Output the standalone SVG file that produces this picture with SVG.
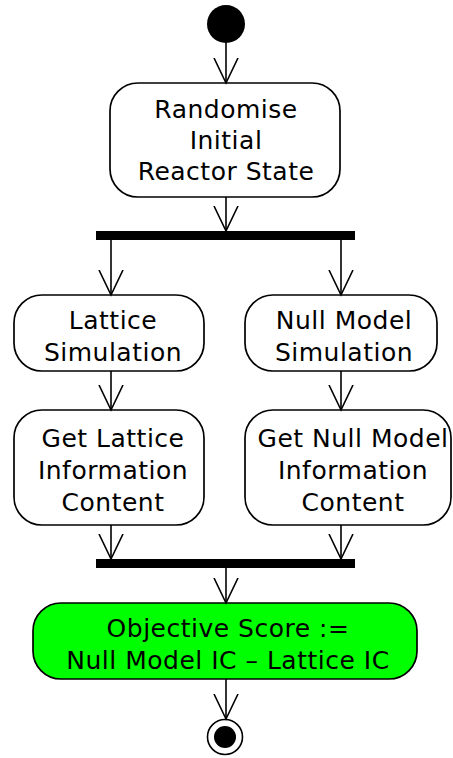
<svg xmlns="http://www.w3.org/2000/svg" width="453" height="758" viewBox="0 0 453 758">
<style>
.box{fill:#fff;stroke:#000;stroke-width:1.7}
.green{fill:#00ff00}
.t{font-family:"DejaVu Sans",sans-serif;font-size:25px;letter-spacing:0.5px;fill:#000;text-anchor:middle}
.c{stroke:#000;stroke-width:1.6;fill:none}
</style>
<defs>
<marker id="arr" viewBox="0 0 27 27" refX="25.5" refY="13.5" markerWidth="27" markerHeight="27" markerUnits="userSpaceOnUse" orient="auto">
<path d="M0.5,1.5 L25.5,13.5 L0.5,25.5" fill="none" stroke="#000" stroke-width="1.6"/>
</marker>
</defs>
<g id="start"><circle cx="226" cy="24" r="19" fill="#000"/></g>
<g id="randomise">
<rect class="box" x="110" y="83" width="230" height="114" rx="28"/>
<text class="t" x="226" y="118">Randomise</text>
<text class="t" x="226" y="149">Initial</text>
<text class="t" x="226" y="180">Reactor State</text>
</g>
<g id="fork"><rect x="96" y="231" width="259" height="9" fill="#000"/></g>
<g id="lattice_sim">
<rect class="box" x="14" y="295" width="190" height="76" rx="28"/>
<text class="t" x="113" y="329">Lattice</text>
<text class="t" x="113" y="361">Simulation</text>
</g>
<g id="null_sim">
<rect class="box" x="245" y="295" width="192" height="76" rx="28"/>
<text class="t" x="344" y="329">Null Model</text>
<text class="t" x="344" y="361">Simulation</text>
</g>
<g id="lattice_ic">
<rect class="box" x="14" y="410" width="190" height="115" rx="28"/>
<text class="t" x="113" y="447">Get Lattice</text>
<text class="t" x="113" y="479">Information</text>
<text class="t" x="113" y="511">Content</text>
</g>
<g id="null_ic">
<rect class="box" x="245" y="410" width="206" height="115" rx="28"/>
<text class="t" x="353" y="447">Get Null Model</text>
<text class="t" x="353" y="479">Information</text>
<text class="t" x="353" y="511">Content</text>
</g>
<g id="join"><rect x="96" y="559" width="259" height="9" fill="#000"/></g>
<g id="objective">
<rect class="box green" x="33" y="603" width="384" height="76" rx="28"/>
<text class="t" x="228" y="637">Objective Score :=</text>
<text class="t" x="228" y="669">Null Model IC – Lattice IC</text>
</g>
<g id="end">
<circle cx="225" cy="737" r="17.5" fill="#fff" stroke="#000" stroke-width="1.6"/>
<circle cx="225" cy="737" r="11" fill="#000"/>
</g>
<g id="connectors">
<path class="c" d="M226,43 V83" marker-end="url(#arr)"/>
<path class="c" d="M226,197 V231" marker-end="url(#arr)"/>
<path class="c" d="M111,240 V295" marker-end="url(#arr)"/>
<path class="c" d="M341,240 V295" marker-end="url(#arr)"/>
<path class="c" d="M111,371 V410" marker-end="url(#arr)"/>
<path class="c" d="M341,371 V410" marker-end="url(#arr)"/>
<path class="c" d="M111,525 V559" marker-end="url(#arr)"/>
<path class="c" d="M341,525 V559" marker-end="url(#arr)"/>
<path class="c" d="M226,568 V603" marker-end="url(#arr)"/>
<path class="c" d="M226,679 V719" marker-end="url(#arr)"/>
</g>
</svg>
